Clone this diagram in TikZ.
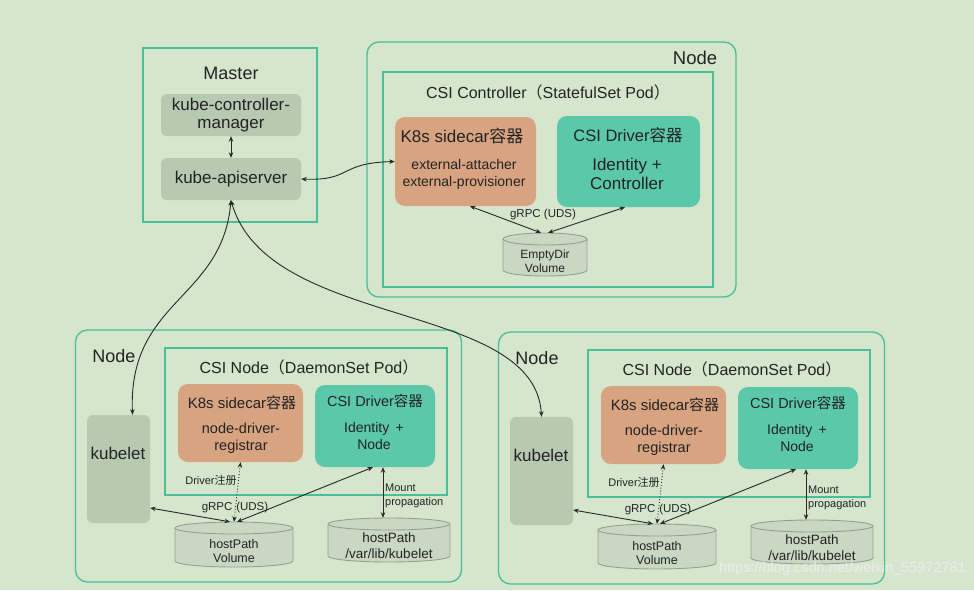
\documentclass[tikz,border=0pt]{standalone}
\usepackage{fontspec}
\setmainfont{Liberation Sans}
\newfontfamily\cjk{Noto Sans CJK SC}
\usetikzlibrary{arrows.meta}
\definecolor{bgc}{RGB}{213,230,205}
\definecolor{framec}{RGB}{72,190,155}
\definecolor{grayfill}{RGB}{184,201,178}
\definecolor{orangefill}{RGB}{216,163,128}
\definecolor{tealfill}{RGB}{92,200,170}
\definecolor{cylf}{RGB}{202,215,194}
\definecolor{cyld}{RGB}{150,160,145}
\definecolor{txt}{RGB}{35,35,35}
\definecolor{linec}{RGB}{40,40,40}
\tikzset{
  frame/.style={draw=framec, line width=1.3pt, inner sep=0pt, fill=none},
  roundframe/.style={frame, rounded corners=12pt},
  graybox/.style={fill=grayfill, rounded corners=6pt, inner sep=0pt},
  orangebox/.style={fill=orangefill, rounded corners=10pt, inner sep=0pt},
  tealbox/.style={fill=tealfill, rounded corners=10pt, inner sep=0pt},
  lbl/.style={text=txt, inner sep=0pt, align=center},
  arr/.style={{Stealth[length=5.5pt,width=4.5pt]}-{Stealth[length=5.5pt,width=4.5pt]}, draw=linec, line width=0.9pt},
  cylfillst/.style={fill=cylf},
  cyldrawst/.style={draw=cyld, line width=0.9pt},
}
% name, cx, ytop, ybottom, halfwidth
\newcommand\mycyl[5]{%
  \fill[cylfillst] (#2-#5,#3+6) -- (#2-#5,#4-6) arc[start angle=180,end angle=0,x radius=#5,y radius=6] -- (#2+#5,#3+6) arc[start angle=0,end angle=-180,x radius=#5,y radius=6] -- cycle;
  \draw[cyldrawst] (#2-#5,#3+6) -- (#2-#5,#4-6) arc[start angle=180,end angle=0,x radius=#5,y radius=6] -- (#2+#5,#3+6) arc[start angle=0,end angle=-180,x radius=#5,y radius=6] -- cycle;
  \draw[cyldrawst] (#2-#5,#3+6) arc[start angle=180,end angle=0,x radius=#5,y radius=6];
  \node[inner sep=0pt, minimum width=2*#5 pt, minimum height=#4-#3 pt] (#1) at (#2,{(#3+#4)/2}) {};
}
% prefix, dx, dy
\newcommand\csinodebox[3]{%
  \begin{scope}[shift={(#2,#3)}]
    \node[roundframe, minimum width=386pt, minimum height=252pt] (#1frame) at (268.5,456) {};
    \node[lbl, font=\fontsize{18}{20}\selectfont] (#1nodelbl) at (114,356) {Node};
    \node[frame, minimum width=282pt, minimum height=147pt] (#1pod) at (306,421.5) {};
    \node[lbl, font=\fontsize{16}{18}\selectfont] (#1podt) at (309,367) {CSI Node{\cjk （}DaemonSet Pod{\cjk ）}};
    \node[orangebox, minimum width=125pt, minimum height=78pt] (#1sc) at (240.5,423) {};
    \node[lbl, font=\fontsize{15}{17}\selectfont] (#1sct) at (242,403) {K8s sidecar{\cjk 容器}};
    \node[lbl, font=\fontsize{14.5}{17}\selectfont] (#1scb) at (241,438.5) {node-driver-\\registrar};
    \node[tealbox, minimum width=120pt, minimum height=82pt] (#1drv) at (375,426) {};
    \node[lbl, font=\fontsize{14.5}{17}\selectfont] (#1drvt) at (375,401) {CSI Driver{\cjk 容器}};
    \node[lbl, font=\fontsize{14}{17}\selectfont] (#1drvb) at (374,436) {Identity \,+\\Node};
    \node[graybox, minimum width=63pt, minimum height=108pt] (#1kub) at (118.5,469) {};
    \node[lbl, font=\fontsize{17}{19}\selectfont] (#1kubt) at (118,453) {kubelet};
    \mycyl{#1vol}{234}{522}{567}{59}
    \node[lbl, font=\fontsize{12.5}{14.5}\selectfont] (#1volt) at (234,551) {hostPath\\Volume};
    \mycyl{#1kp}{389}{518}{562}{61}
    \node[lbl, font=\fontsize{13.5}{16}\selectfont] (#1kpt) at (389,545.5) {hostPath\\/var/lib/kubelet};
    \node[lbl, font=\fontsize{11}{13}\selectfont] (#1reg) at (211,480) {Driver{\cjk 注册}};
    \node[lbl, font=\fontsize{11.5}{13}\selectfont] (#1grpc) at (235,508) {gRPC\,\,(UDS)};
    \node[lbl, font=\fontsize{11}{14}\selectfont, align=left, anchor=west] (#1mnt) at (385,496) {Mount\\propagation};
    \draw[arr] ([yshift=-39pt]#1kub.east) -- ([xshift=-4pt]#1vol.north);
    \draw[arr] ([xshift=-2pt]#1drv.south) -- ([xshift=3pt]#1vol.north);
    \draw[arr, dotted] (#1sc.south) -- ([xshift=0pt]#1vol.north);
    \draw[arr] ([xshift=8pt]#1drv.south) -- ([xshift=8pt]#1drv.south |- #1kp.north);
  \end{scope}
}
\begin{document}
\begin{tikzpicture}[x=1pt, y=-1pt]
  \fill[bgc] (0,0) rectangle (974,590);
  \useasboundingbox (0,0) rectangle (974,590);
  % Master
  \node[frame, minimum width=174pt, minimum height=174pt] (master) at (230,135) {};
  \node[lbl, font=\fontsize{18}{20}\selectfont] (mastert) at (231,73) {Master};
  \node[graybox, minimum width=140pt, minimum height=42pt, lbl, font=\fontsize{17}{18}\selectfont] (kcm) at (231,115) {kube-controller-\\manager};
  \node[graybox, minimum width=140pt, minimum height=42pt, lbl, font=\fontsize{17}{19}\selectfont] (api) at (231,179) {kube-apiserver};
  \draw[arr] (kcm.south) -- (api.north);
  % Top node
  \node[roundframe, minimum width=369pt, minimum height=255pt] (tnode) at (551.5,169.5) {};
  \node[lbl, font=\fontsize{18.5}{20}\selectfont] (tnodet) at (695,58) {Node};
  \node[frame, minimum width=330pt, minimum height=215pt] (tpod) at (548,179.5) {};
  \node[lbl, font=\fontsize{16}{18}\selectfont] (tpodt) at (548,92) {CSI Controller{\cjk （}StatefulSet Pod{\cjk ）}};
  \node[orangebox, minimum width=141pt, minimum height=89pt] (tsc) at (465.5,161.5) {};
  \node[lbl, font=\fontsize{17}{19}\selectfont] (tsct) at (462,136) {K8s sidecar{\cjk 容器}};
  \node[lbl, font=\fontsize{14}{17}\selectfont] (tscb) at (464,174) {external-attacher\\external-provisioner};
  \node[tealbox, minimum width=143pt, minimum height=91pt] (tdrv) at (628.5,161.5) {};
  \node[lbl, font=\fontsize{16.5}{19}\selectfont] (tdrvt) at (628,135) {CSI Driver{\cjk 容器}};
  \node[lbl, font=\fontsize{17}{19.5}\selectfont] (tdrvb) at (627,174) {Identity +\\Controller};
  \mycyl{tvol}{545}{233}{276}{42}
  \node[lbl, font=\fontsize{12}{14}\selectfont] (tvolt) at (545,261) {EmptyDir\\Volume};
  \node[lbl, font=\fontsize{11.5}{13}\selectfont] (tgrpc) at (543,215) {gRPC (UDS)};
  \draw[arr] ([xshift=4.5pt]tsc.south) -- ([xshift=-4pt]tvol.north);
  \draw[arr] ([xshift=-3.5pt]tdrv.south) -- ([xshift=3pt]tvol.north);
  \draw[arr] (api.east) .. controls (352,181) and (338,163) .. (tsc.west);
  % Bottom nodes
  \csinodebox{L}{0}{0}
  \csinodebox{R}{423}{2}
  \draw[arr] (api.south) .. controls (222,300) and (128,300) .. ([xshift=14pt]Lkub.north);
  \draw[arr] (api.south) .. controls (268,330) and (535,300) .. (Rkub.north);
  % watermark
  \node[text=white!85!gray, inner sep=0pt, anchor=east, font=\fontsize{14.5}{16}\selectfont] (wm) at (966,569) {https://blog.csdn.net/weixin\_55972781};
\end{tikzpicture}
\end{document}
